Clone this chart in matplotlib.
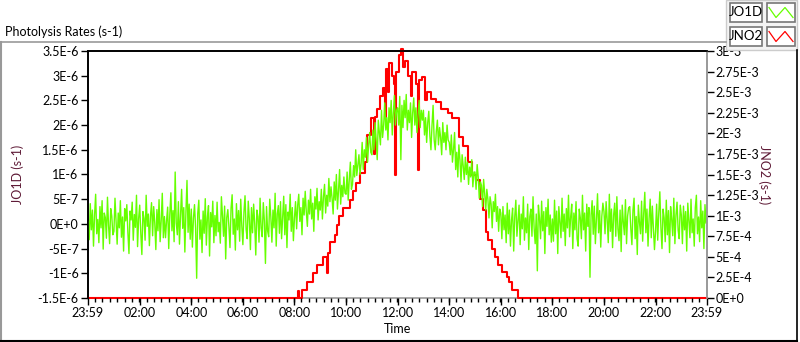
import numpy as np
import matplotlib
matplotlib.use('Agg')
import matplotlib.pyplot as plt
from matplotlib.lines import Line2D
from matplotlib.patches import Rectangle
from matplotlib.ticker import MultipleLocator, FuncFormatter, FixedLocator

plt.rcParams['font.family'] = ['Lato', 'DejaVu Sans']

# JO1D, sampled every 2.5 min from 00:00 (one row per hour), in units of 1e-8 s-1
jo1d_e8 = [
    5, -32, 41, -12, 28, -45, 18, 60, -20, 9, -38, 35, -8, 47, -51, 22, 13, -29, 54, -3, -40, 31, 16, -22,
    -15, 52, 3, -41, 22, -8, 47, -27, 14, -55, 31, 6, 39, -18, -60, 26, 8, 44, -33, 19, -7, 58, -46, 11,
    38, -19, -62, 25, 11, -33, 58, -5, 20, -44, 16, 43, -24, 35, 2, -52, 29, -14, 49, -36, 7, 62, -28, 15,
    -28, 7, 34, -50, 19, 63, -14, 27, -36, 105, 2, -22, 45, -41, 18, 70, -9, 33, -57, 24, 88, -17, 40, -31,
    30, -47, 12, 39, -9, -110, 21, 48, -31, 8, -58, 26, -19, 51, -43, 14, 37, -65, 23, -6, 46, -38, 17, -24,
    44, -16, 3, -39, 55, 17, -25, 36, -71, 13, 29, -6, -48, 32, 59, -21, 10, -53, 41, -12, 27, -35, 50, -4,
    -42, 24, 57, -11, -30, 46, 10, -52, 33, -18, 40, 1, -63, 28, 15, -37, 52, -9, -26, 43, 6, -80, 35, -14,
    -26, 50, 15, -37, 28, -8, 62, -45, 20, 37, -19, 45, -30, 12, 56, -22, 39, -48, 24, 8, 60, -15, 33, -34,
    12, 45, -10, 38, 60, 5, 33, -22, 52, 18, 66, 25, -5, 48, 20, 70, 10, 42, -15, 55, 30, 72, 8, 45,
    28, 70, 10, 55, 80, 22, 58, 36, 92, 45, 75, 52, 20, 85, 48, 100, 30, 68, 110, 40, 78, 55, 95, 62,
    60, 105, 48, 90, 125, 70, 80, 118, 95, 150, 98, 120, 140, 100, 122, 165, 110, 150, 135, 175, 125, 160, 185, 145,
    140, 190, 150, 205, 170, 130, 210, 185, 160, 230, 175, 200, 245, 190, 215, 170, 235, 205, 250, 180, 225, 260, 200, 230,
    235, 200, 258, 130, 240, 195, 250, 215, 262, 190, 230, 205, 245, 175, 225, 255, 200, 235, 185, 220, 250, 195, 230, 210,
    230, 180, 215, 165, 205, 228, 178, 150, 200, 240, 170, 150, 188, 210, 160, 195, 175, 140, 205, 165, 185, 150, 200, 170,
    165, 140, 180, 125, 150, 185, 110, 145, 95, 160, 130, 85, 140, 118, 90, 135, 100, 125, 80, 115, 95, 130, 75, 105,
    105, 70, 120, 95, 52, 85, 78, 35, 90, 62, 28, 70, 50, 12, 55, 40, -8, 45, 25, 60, 5, 35, -15, 30,
    22, -30, 35, -12, 18, -38, 42, -20, 28, -45, 8, 32, -55, 15, 48, -25, 5, 38, -42, 20, -10, 55, -33, 12,
    -18, 40, -52, 15, 30, -25, 55, -8, -40, 20, -95, 38, 12, -30, 46, -14, 25, -60, 33, -5, 50, -22, 18, -37,
    10, -35, 48, -20, 26, -60, 35, 5, -28, 52, -15, 20, -44, 31, -8, 58, -26, 14, 40, -50, 22, -12, 45, -30,
    -45, 30, 12, -30, 58, -12, 22, -55, 40, -5, 33, -108, 18, 47, -21, 36, -40, 9, 61, -18, 27, -47, 15, 42,
    25, -20, 45, 8, -38, 60, -15, 30, -48, 18, 42, -25, 55, -10, -34, 28, -56, 38, 4, -22, 49, -40, 16, 33,
    35, -10, -42, 28, 52, -30, 15, -62, 38, 4, -20, 46, -35, 22, 64, -18, 30, -45, 11, 50, -28, 36, -9, -52,
    -15, 40, -33, 22, 65, -8, -50, 30, 12, -36, 48, -22, 27, -58, 35, 10, -24, 52, -40, 18, 44, -12, -30, 38,
    18, -40, 36, -12, 25, -55, 42, 6, -28, 50, -18, 10, -45, 33, 58, -20, 14, -36, 47, -8, 26, -50, 39, 2,
]

# JNO2 step changes: (hour, value in 1e-3 s-1)
jno2_steps = [
    (0, 0), (8.12, 0.08), (8.17, 0), (8.28, 0.1), (8.49, 0.2), (8.73, 0.3),
    (8.88, 0.4), (9.11, 0.5), (9.28, 0.3), (9.31, 0.55), (9.38, 0.68),
    (9.57, 0.77), (9.64, 0.89), (9.71, 1.0), (9.88, 1.09), (10.15, 1.19),
    (10.27, 1.3), (10.39, 1.4), (10.55, 1.52), (10.72, 1.65), (10.82, 1.98),
    (10.98, 2.19), (11.08, 1.75), (11.14, 2.2), (11.2, 2.3), (11.32, 2.45),
    (11.45, 2.55), (11.5, 2.2), (11.55, 2.78), (11.62, 2.5), (11.68, 2.85),
    (11.78, 2.7), (11.86, 2.6), (11.9, 1.5), (11.94, 2.75), (12.05, 2.95),
    (12.12, 3.02), (12.2, 2.8), (12.28, 2.88), (12.42, 2.7), (12.5, 2.45),
    (12.55, 2.75), (12.7, 2.6), (12.78, 1.55), (12.82, 2.65), (12.95, 2.68),
    (13.05, 2.4), (13.12, 2.5), (13.3, 2.42), (13.5, 2.38), (13.7, 2.3),
    (13.95, 2.25), (14.1, 2.19), (14.38, 1.96), (14.55, 1.85), (14.72, 1.65),
    (14.88, 1.5), (15.05, 1.43), (15.2, 1.2), (15.3, 1.07), (15.42, 0.8),
    (15.5, 0.7), (15.66, 0.6), (15.78, 0.5), (15.9, 0.4), (16.06, 0.32),
    (16.25, 0.26), (16.3, 0.2), (16.45, 0.1), (16.67, 0), (24, 0),
]

tick_hours = [-1/60, 2, 4, 6, 8, 10, 12, 14, 16, 18, 20, 22, 24 - 1/60]
tick_labels = ['23:59', '02:00', '04:00', '06:00', '08:00', '10:00', '12:00',
               '14:00', '16:00', '18:00', '20:00', '22:00', '23:59']

jo1d = np.array(jo1d_e8) * 1e-8
jo1d_t = np.arange(len(jo1d)) * 24 / len(jo1d)
jno2_t = np.array([s[0] for s in jno2_steps])
jno2 = np.array([s[1] for s in jno2_steps]) * 1e-3


def sci(v, pos):
    if abs(v) < 1e-12:
        return '0E+0'
    m, e = f'{v:.2E}'.split('E')
    m = m.rstrip('0').rstrip('.')
    return f'{m}E{int(e)}'


W, H = 800, 342
fig = plt.figure(figsize=(W / 100, H / 100), dpi=100)
ax = fig.add_axes([87.7 / W, 1 - 298 / H, 619 / W, 247 / H])
ax2 = ax.twinx()
ax.set_zorder(ax2.get_zorder() + 1)
ax.patch.set_visible(False)

ax2.step(jno2_t, jno2, where='post', color='#ff0000', lw=1.5, clip_on=False, zorder=3)
ax.plot(jo1d_t, jo1d, color='#66ff00', lw=1.0)

ax.set_xlim(-1/60, 24 - 1/60)
ax.set_ylim(-1.5e-6, 3.5e-6)
ax2.set_ylim(0, 3e-3)
ax.yaxis.set_major_locator(MultipleLocator(5e-7))
ax2.yaxis.set_major_locator(MultipleLocator(2.5e-4))
ax.yaxis.set_major_formatter(FuncFormatter(sci))
ax2.yaxis.set_major_formatter(FuncFormatter(sci))
ax.xaxis.set_major_locator(FixedLocator(tick_hours))
ax.set_xticklabels(tick_labels)
ax.xaxis.set_minor_locator(FixedLocator(np.arange(85) * 2 / 7 - 1/60))

for a in (ax, ax2):
    a.tick_params(axis='both', labelsize=9, colors='black', length=5, width=1, pad=1.5)
    a.tick_params(axis='x', which='minor', length=3, width=1)
    a.spines['top'].set_color('black')
    a.spines['left'].set_color('black')
    a.spines['bottom'].set_color('#999999')
    a.spines['right'].set_color('#999999')
    for s in a.spines.values():
        s.set_linewidth(1.2)
ax.spines['bottom'].set_visible(False)
ax2.spines['bottom'].set_zorder(1)

ax.set_ylabel('JO1D (s-1)', fontsize=9, color='#5e1a36', labelpad=10)
ax2.set_ylabel('JNO2 (s-1)', fontsize=9, color='#5e1a36', rotation=270, labelpad=8)
ax.set_xlabel('Time', fontsize=9, color='black', labelpad=3)

# panel frame and title
fig.text(5 / W, 1 - 32 / H, 'Photolysis Rates (s-1)', fontsize=9, va='center', ha='left')
fig.add_artist(Line2D([0, 726 / W], [1 - 42 / H] * 2, color='#999999', lw=1.2))
fig.add_artist(Line2D([1 / W] * 2, [1 - 42 / H, 0], color='#999999', lw=1.5))
fig.add_artist(Line2D([0, 797 / W], [1 - 340.5 / H] * 2, color='black', lw=1.5))
fig.add_artist(Line2D([797 / W] * 2, [1 - 50 / H, 1 - 340.5 / H], color='black', lw=1.2))

# legend boxes
legend_rows = [('JO1D', '#66ff00', 12.5), ('JNO2', '#ff0000', 36.5)]
fig.add_artist(Rectangle((726 / W, 1 - 50 / H), 71 / W, 50 / H, facecolor='#f4f4f4',
                         edgecolor='#cccccc', lw=1, transform=fig.transFigure))
for name, col, yc in legend_rows:
    fig.add_artist(Rectangle((730 / W, 1 - (yc + 9.5) / H), 32 / W, 19 / H, facecolor='white',
                             edgecolor='#777777', lw=1.2, transform=fig.transFigure))
    fig.add_artist(Rectangle((767 / W, 1 - (yc + 9.5) / H), 28 / W, 19 / H, facecolor='white',
                             edgecolor='#777777', lw=1.2, transform=fig.transFigure))
    fig.text(746 / W, 1 - yc / H, name, fontsize=9.5, ha='center', va='center')
    zx = np.array([769, 776, 785, 793]) / W
    zy = 1 - (yc + np.array([-5, 5, -5, 5])) / H
    fig.add_artist(Line2D(zx, zy, color=col, lw=0.9))

fig.savefig('out.png', dpi=100)
